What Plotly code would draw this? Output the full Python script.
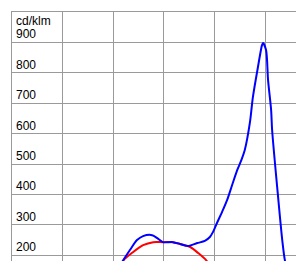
import plotly.graph_objects as go

# angle-like x positions (grid every 10 units) and intensities in cd/klm
blue_x = [21.5, 21.9, 23.3, 24.7, 25.9, 27.7, 28.7, 29.8, 31.8, 33.2, 34.8, 36.6, 38.1,
          39.1, 39.7, 40.5, 41.5, 42.5, 43.5, 44.5, 45.3, 46.0, 47.0, 47.6, 48.6, 49.4,
          49.6, 50.2, 50.6, 51.2, 51.4, 52.4, 53.4, 53.95, 54.3]
blue_y = [165, 181, 217, 250, 263, 266, 256, 243, 243, 237, 230, 240, 247,
          260, 276, 306, 342, 381, 431, 480, 512, 546, 635, 720, 819, 891,
          898, 875, 776, 678, 612, 424, 250, 181, 160]
red_x = [21.5, 21.9, 23.9, 25.9, 27.9, 29.8, 31.8, 33.2, 35.2, 36.8, 38.5, 39.2]
red_y = [165, 181, 210, 233, 243, 243, 243, 237, 227, 207, 181, 160]

y_labels = [900, 800, 700, 600, 500, 400, 300, 200]
unit_label = "cd/klm"

fig = go.Figure()
fig.add_trace(go.Scatter(x=red_x, y=red_y, mode="lines",
                         line=dict(color="#ff0000", width=2, shape="spline", smoothing=0.8), hoverinfo="skip"))
fig.add_trace(go.Scatter(x=blue_x, y=blue_y, mode="lines",
                         line=dict(color="#0000ff", width=2, shape="spline", smoothing=0.8), hoverinfo="skip"))

font = dict(family="Liberation Sans, Arial, sans-serif", size=12, color="black")
for v in y_labels:
    fig.add_annotation(x=0, y=v, xref="x", yref="y", text=str(v), showarrow=False,
                       xanchor="left", yanchor="bottom", align="left", xshift=2, yshift=-1,
                       font=font)
fig.add_annotation(x=0, y=1, xref="x", yref="paper", text=unit_label, showarrow=False,
                   xanchor="left", yanchor="top", align="left", xshift=2, yshift=0,
                   font=font)

grid = "#9a9a9a"
fig.update_layout(
    width=296, height=253,
    margin=dict(l=4, r=0, t=4, b=0, autoexpand=False),
    paper_bgcolor="white", plot_bgcolor="white",
    showlegend=False,
    xaxis=dict(range=[0, 57.7], tickvals=[10, 20, 30, 40, 50], showgrid=True, gridcolor=grid, gridwidth=1,
               showticklabels=False, ticks="", zeroline=False, showline=True, linecolor=grid, linewidth=1,
               side="top", fixedrange=True),
    yaxis=dict(range=[181, 1000], tickvals=[200, 300, 400, 500, 600, 700, 800, 900], showgrid=True,
               gridcolor=grid, gridwidth=1, showticklabels=False, ticks="", zeroline=False,
               showline=True, linecolor=grid, linewidth=1, fixedrange=True),
)
fig.write_html("out.html", config={"displayModeBar": False})
